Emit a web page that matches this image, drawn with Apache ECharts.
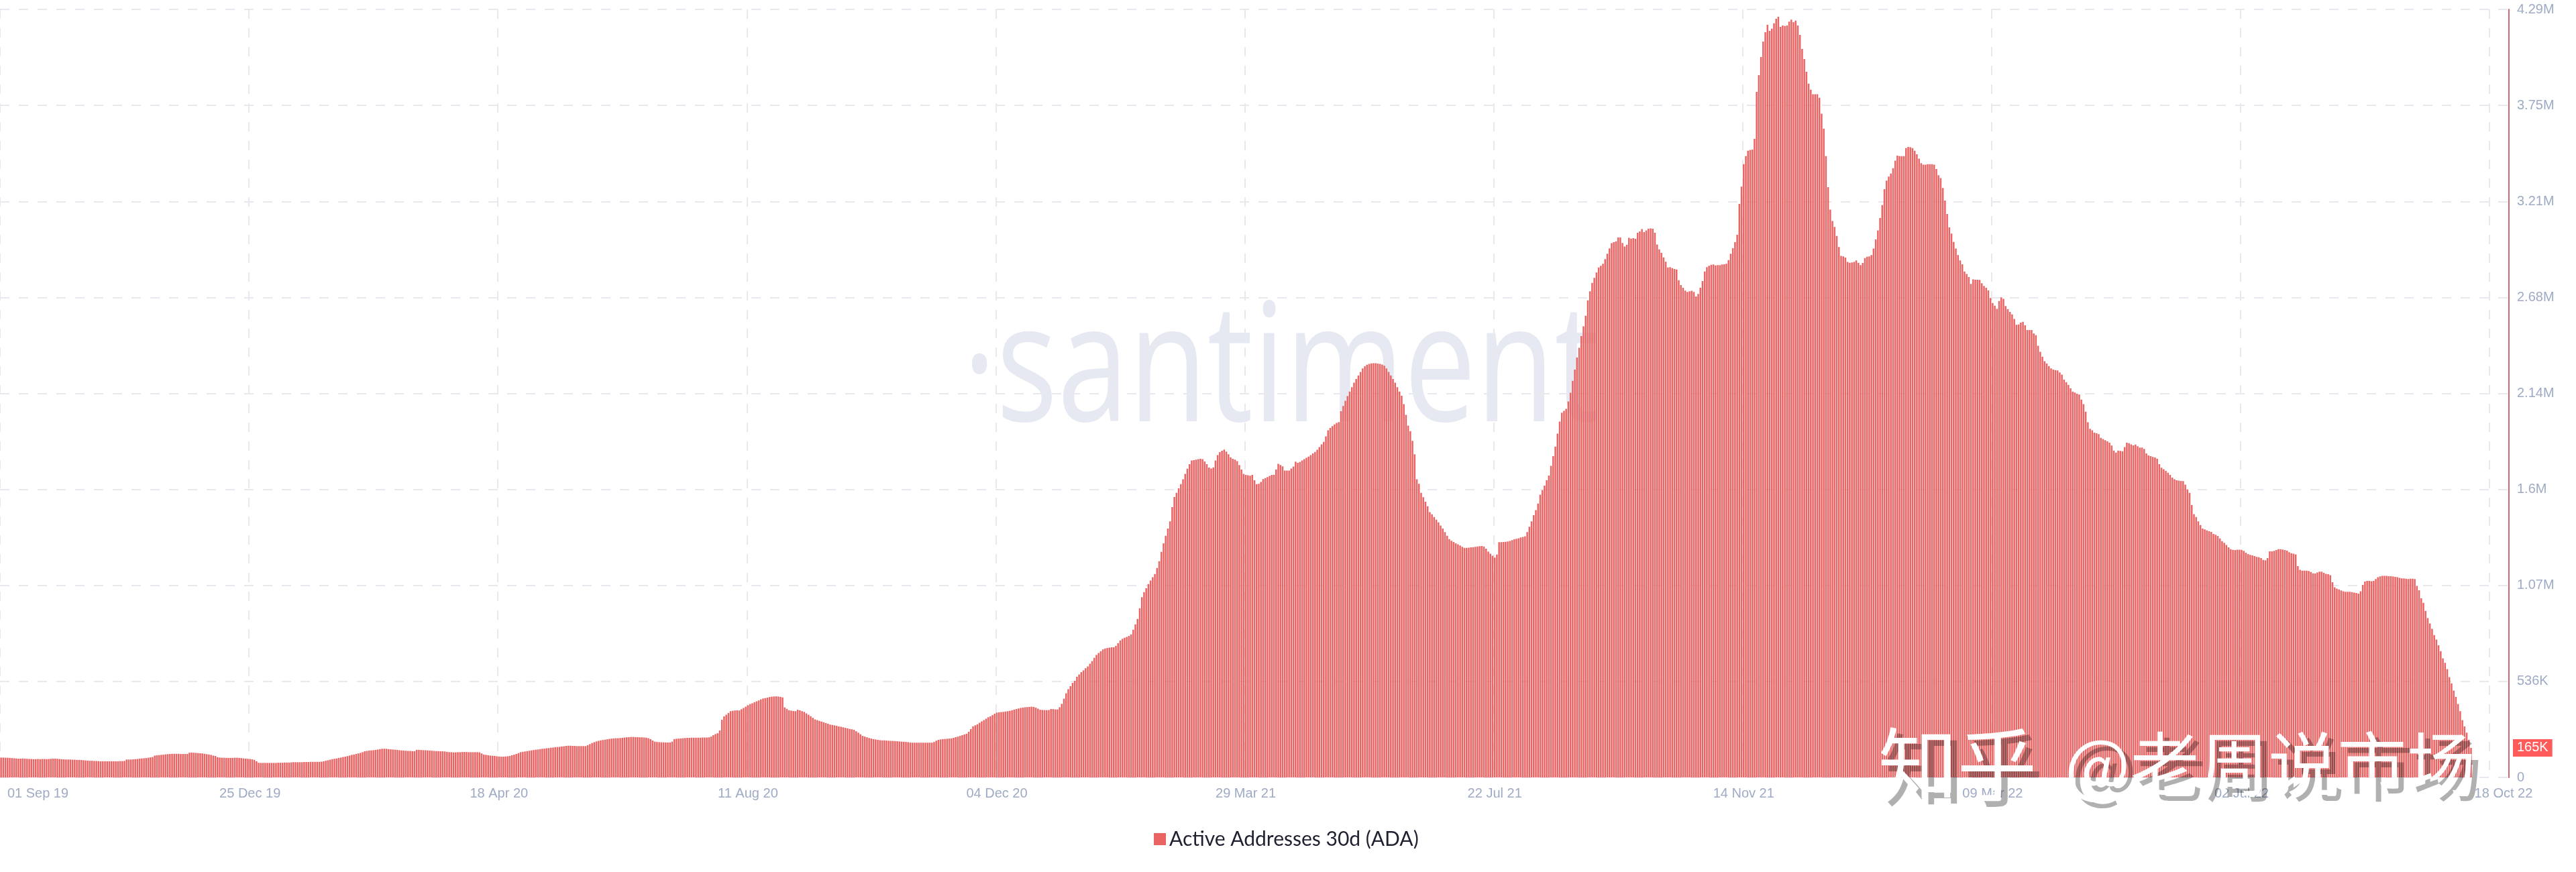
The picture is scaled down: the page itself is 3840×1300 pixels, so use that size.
<!DOCTYPE html>
<html>
<head>
<meta charset="utf-8">
<script src="https://cdn.jsdelivr.net/npm/echarts@6/dist/echarts.min.js"></script>
<style>
html, body { margin: 0; padding: 0; background: #fff; }
#main { width: 3840px; height: 1300px; }
</style>
</head>
<body>
<div id="main"></div>
<script>
// daily active addresses 30d, in thousands
var addrSep19 = [111,111,110,110,109,108,107,106,105,105,106,105,104,103,103,102,102,103,102,103,103,102,103,104,105,105,104,103,102,101,100,100,100,99,99,98,98,97,96,95,94,93,93,92,92,91,90,90,90,90,90,90,90,90,90,91,91,92,100,100,100,101,102,103,105,106,107,108,110,112,114,122,124,125,126,127,129,130,131,132,132,132,132,131,131,131,131,138,139,138,137,136,135,134,132,130,128,126,122,120,113,111,110,110,109,109,109,109,110,110,109,108,106,105,104,103,101,98,90];
var addrJan20 = [82,81,81,81,81,81,81,81,81,82,82,82,83,83,83,84,85,85,85,85,85,86,86,86,87,87,87,87,87,88,90,93,96,99,102,104,106,109,111,114,116,119,122,126,128,131,134,137,141,146,148,150,151,152,154,156,158,160,160,160,158,157,156,155,154,152,151,150,149,148,148,147,147,154,154,153,152,152,151,150,149,148,147,147,146,146,145,143,141,141,140,140,141,141,142,142,142,141,141,141,141,141,140,134,128,126,124,122,121,120,118,117,116,116,117,118,120,124,127,131,136,141,143];
var addrJun20 = [145,147,149,151,153,155,156,158,160,161,163,164,166,167,169,170,171,173,174,176,177,177,176,176,175,175,175,175,175,180,186,192,197,201,204,207,209,211,213,215,217,218,219,219,220,221,223,224,225,226,226,225,225,224,224,223,222,219,214,206,200,198,197,196,196,195,195,195,200,214,216,217,218,219,220,221,221,222,222,222,222,222,223,223,223,224,228,236,242,247,262,322,341,350,360,370,372,374,375,374,381,388,395,403,410,414,420,425,430,436,441,443,446,449,451,452,453,452,450,447,391,383,375];
var addrOct20 = [373,371,370,378,375,370,366,358,350,342,333,324,320,316,312,308,304,300,295,293,291,288,285,283,280,277,274,271,269,266,258,250,241,232,228,224,220,217,214,212,210,208,207,207,206,205,204,204,203,202,201,200,199,198,197,195,194,194,194,194,194,194,194,194,194,194,198,205,210,212,214,215,216,217,218,221,225,228,232,236,240,244,255,270,285,291,297,305,313,320,328,336,341,348,356,362,364,365,366,368,370,372,375,379,382,385,388,390,392,393,394,395,394,390,384,378,377,376,376];
var addrJan21 = [376,382,382,380,380,392,411,440,470,493,510,528,540,562,575,588,598,610,620,635,650,668,684,695,705,715,720,723,725,727,727,735,750,765,774,780,785,790,799,825,855,885,945,1007,1035,1057,1080,1100,1118,1136,1170,1207,1260,1308,1350,1390,1430,1510,1566,1590,1615,1638,1665,1695,1724,1750,1770,1772,1775,1778,1780,1778,1765,1750,1731,1725,1731,1770,1800,1817,1825,1831,1820,1805,1788,1780,1775,1767,1745,1720,1695,1690,1688,1685,1690,1660,1638,1640,1650,1666,1672,1678,1684,1690,1691,1720,1752,1745,1738,1714,1714,1714,1725,1737,1764,1757,1762,1770,1778,1785,1792,1800,1810,1818,1830,1845,1860,1874,1905,1939,1952,1962,1972,1980,1985,2046,2075,2104,2130,2155,2180,2205,2226,2245,2265,2285,2297,2305,2310,2313,2314,2314,2312,2310,2306,2300,2285,2265,2245,2226,2205,2180,2155,2132,2085,2025];
var addrJun21 = [1965,1934,1880,1805,1665,1640,1590,1565,1540,1515,1482,1470,1455,1440,1425,1407,1390,1370,1350,1331,1322,1315,1308,1302,1295,1288,1282,1282,1283,1285,1286,1288,1290,1292,1293,1290,1278,1262,1250,1238,1228,1245,1314,1314,1315,1316,1318,1321,1325,1330,1333,1336,1340,1343,1347,1370,1400,1430,1465,1493,1530,1579,1605,1630,1660,1686,1740,1795,1848,1920,1988,2037,2048,2059,2100,2149,2215,2278,2345,2400,2465,2520,2579,2665,2715,2762,2790,2820,2848,2858,2869,2895,2925,2955,2984,2990,2995,3016,3016,2985,2966,2975,3014,3010,3012,3009,3042,3050,3063,3046,3055,3065,3067,3065,3042,2977,2950,2930,2905,2880,2848,2850,2845,2840,2837,2777,2750,2735,2719,2712,2715,2718,2712,2686,2700,2735,2773,2826,2850,2858,2863,2865,2860,2862,2862,2865,2866,2869,2890,2925,2956,2990,3031,3203];
var addrNov21 = [3300,3425,3470,3500,3505,3507,3567,3829,3923,4024,4110,4163,4204,4170,4182,4212,4238,4249,4193,4200,4197,4200,4222,4233,4219,4227,4200,4148,4069,4013,3942,3875,3841,3816,3816,3816,3796,3707,3624,3470];
var addrJan22 = [3297,3172,3108,3075,3025,2963,2913,2910,2904,2879,2875,2877,2879,2888,2875,2862,2874,2901,2908,2910,2918,2954,3005,3055,3125,3197,3286,3334,3356,3373,3403,3445,3473,3470,3470,3470,3515,3522,3520,3515,3500,3481,3456,3431,3423,3423,3425,3425,3425,3423,3398,3364,3348,3292,3222,3147,3072,3038,2991,2954,2918,2888,2866,2826,2812,2795,2757,2782,2780,2780,2779,2760,2745,2735,2720,2678,2650,2635,2617,2661,2682,2673,2633,2615,2600,2586,2561,2528,2530,2540,2545,2525,2499,2499,2499,2480,2470,2411,2377,2350,2325,2312,2298,2285,2278,2275,2273,2262,2250,2222,2208,2193,2173,2155,2150,2143,2138,2110,2085,2043,1984,1947,1939,1926,1922,1917,1897,1890,1884,1877,1870,1854,1826,1814,1826,1824,1822,1845,1870,1867,1860,1855,1859,1850,1842];
var addrMay22 = [1842,1835,1810,1798,1795,1790,1787,1780,1750,1730,1722,1712,1702,1690,1675,1665,1660,1658,1656,1655,1635,1608,1590,1521,1471,1455,1430,1410,1390,1385,1380,1375,1371,1360,1355,1349,1335,1320,1310,1298,1285,1275,1271,1270,1272,1272,1271,1265,1255,1248,1243,1240,1236,1232,1230,1225,1215,1213,1225,1263,1263,1265,1270,1275,1275,1273,1270,1266,1258,1252,1250,1246,1180,1160,1155,1155,1155,1153,1147,1140,1139,1145,1149,1149,1143,1137,1135,1130,1090,1062,1055,1050,1044,1040,1037,1037,1037,1035,1032,1030,1027,1040,1075,1094,1098,1098,1096,1098,1108,1118,1123,1126,1126,1126,1124,1124,1122,1120,1118,1115,1112,1112,1110,1108,1110,1110,1108,1070,1045,1000,975,930,890,860,830,795,770,738,705,665,640,605,560,525,485,450,410,370,320,285,250,210,165];

var xTickLabels = ['25 Dec 19','18 Apr 20','11 Aug 20','04 Dec 20','29 Mar 21','22 Jul 21','14 Nov 21','09 Mar 22','02 Jul 22'];
var xFirstLabel = '01 Sep 19';
var xLastLabel = '18 Oct 22';
var yTickLabels = ['0','536K','1.07M','1.6M','2.14M','2.68M','3.21M','3.75M','4.29M'];
var yMax = 4290;
var lastValue = 165;
var lastValueLabel = '165K';
var seriesName = 'Active Addresses 30d (ADA)';

var values = [].concat(addrSep19, addrJan20, addrJun20, addrOct20, addrJan21, addrJun21, addrNov21, addrJan22, addrMay22);

var dayCount = 1159; // axis runs a little past the last bar
var tickStep = 115;
var categories = [];
for (var i = 0; i < dayCount; i++) {
    categories.push('');
}
categories[17] = xFirstLabel; // first label sits right of its gridline
xTickLabels.forEach(function (label, n) {
    categories[(n + 1) * tickStep] = label;
});
categories[1156] = xLastLabel;

function watermark(text, x, y, size) {
    return [
        {
            type: 'text', x: x + 10, y: y + 9, z: 100, silent: true,
            style: { text: text, fontFamily: 'Noto Sans CJK SC', fontSize: size, fill: 'rgba(0,0,0,0.31)', textVerticalAlign: 'middle' }
        },
        {
            type: 'text', x: x, y: y, z: 101, silent: true,
            style: { text: text, fontFamily: 'Noto Sans CJK SC', fontSize: size, fill: '#fff', textVerticalAlign: 'middle' }
        }
    ];
}

var myChart = echarts.init(document.getElementById('main'));
var option = {
    animation: false,
    backgroundColor: '#fff',
    textStyle: { fontFamily: 'Liberation Sans' },
    grid: { left: 0, right: 100, top: 14, bottom: 141 },
    legend: {
        data: [seriesName],
        left: 1715,
        top: 1231,
        itemWidth: 18,
        itemHeight: 18,
        itemGap: 11,
        icon: 'rect',
        textStyle: { color: '#1e2030', fontSize: 30, fontFamily: 'Lato' }
    },
    xAxis: {
        type: 'category',
        data: categories,
        axisLine: { show: false },
        axisTick: { show: false },
        axisLabel: {
            color: '#9faac4',
            fontSize: 20,
            margin: 14,
            interval: function (index, value) { return value !== ''; }
        },
        splitLine: {
            show: true,
            interval: function (index) { return index % tickStep === 0; },
            lineStyle: { color: '#e8e9ee', width: 2, type: [14, 14] }
        }
    },
    yAxis: {
        type: 'value',
        position: 'right',
        min: 0,
        max: yMax,
        interval: yMax / 8,
        axisLine: { show: true, lineStyle: { color: '#cb6a70', width: 2 } },
        axisTick: { show: false },
        axisLabel: {
            color: '#9faac4',
            fontSize: 20,
            margin: 12,
            formatter: function (v) { return yTickLabels[Math.round(v / (yMax / 8))]; }
        },
        splitLine: { lineStyle: { color: '#e8e9ee', width: 2, type: [14, 14] } }
    },
    series: [{
        name: seriesName,
        type: 'bar',
        data: values,
        barWidth: 2.5,
        itemStyle: { color: '#ea6464' },
        markLine: {
            silent: true,
            symbol: 'none',
            animation: false,
            lineStyle: { color: 'transparent', width: 1 },
            label: {
                position: 'end',
                distance: 6,
                formatter: lastValueLabel,
                color: '#fff',
                fontSize: 20,
                backgroundColor: '#ff5b5b',
                padding: [3, 6, 3, 6]
            },
            data: [{ yAxis: lastValue }]
        }
    }],
    graphic: [
        {
            type: 'text', x: 1435, y: 558, scaleX: 0.78, z: -1, silent: true,
            style: { text: '·santiment', fontFamily: 'Open Sans', fontSize: 245, fill: '#e6e9f2', textVerticalAlign: 'middle' }
        }
    ].concat(watermark('知乎', 2800, 1139, 118), watermark('@老周说市场', 3078, 1139, 103))
};
myChart.setOption(option);
</script>
</body>
</html>
